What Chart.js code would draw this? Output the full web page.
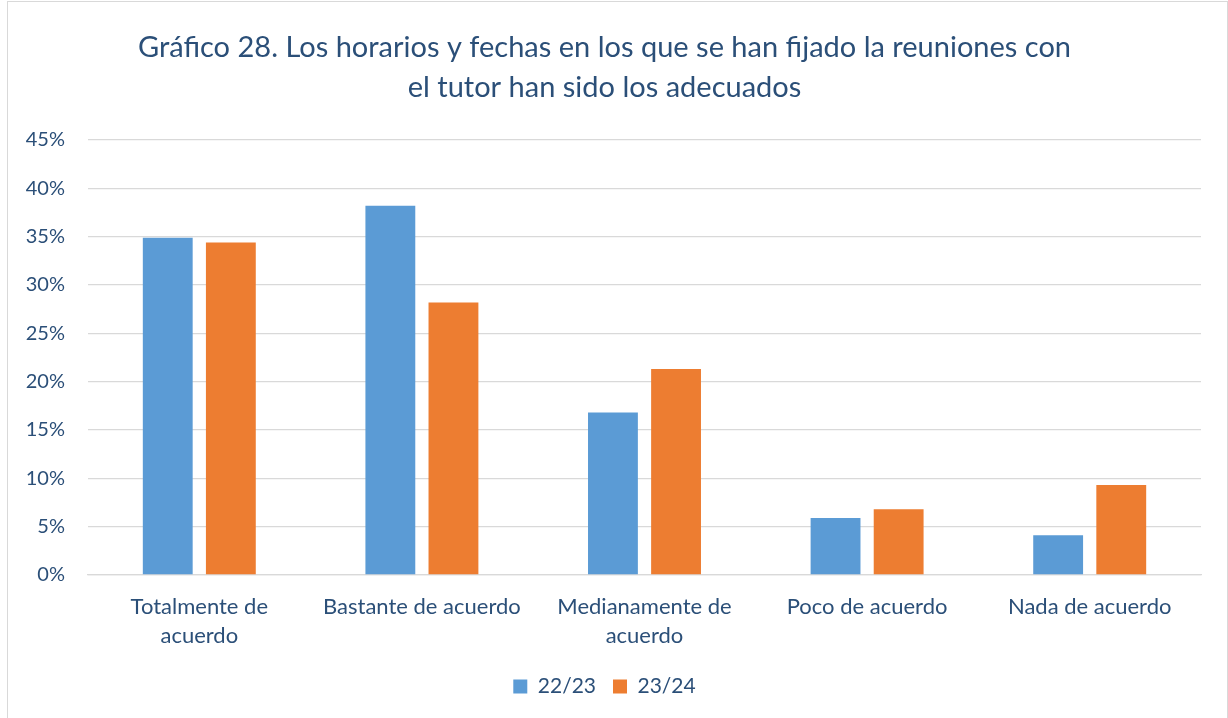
<!DOCTYPE html>
<html>
<head>
<meta charset="utf-8">
<script src="https://cdn.jsdelivr.net/npm/chart.js@4.4.1/dist/chart.umd.min.js"></script>
<style>
  body{margin:0;background:#fff;overflow:hidden;}
  #frame{position:absolute;left:7px;top:1px;width:1219px;height:730px;border:1px solid #d9d9d9;}
</style>
</head>
<body>
<div id="frame"><canvas id="chart" width="1219" height="716"></canvas></div>
<script>
//----- chart data -----//
const categories = [["Totalmente de","acuerdo"],"Bastante de acuerdo",["Medianamente de","acuerdo"],"Poco de acuerdo","Nada de acuerdo"];
const serie2223  = [34.9, 38.2, 16.8, 5.9, 4.1];
const serie2324  = [34.4, 28.2, 21.3, 6.8, 9.3];
const titleLines = ["Gráfico 28. Los horarios y fechas en los que se han fijado la reuniones con","el tutor han sido los adecuados"];

const textColor = '#2b4f78';
const fontName  = 'Lato';

new Chart(document.getElementById('chart'), {
  type: 'bar',
  data: {
    labels: categories,
    datasets: [
      {label:'22/23', data:serie2223, backgroundColor:'#5b9bd5', categoryPercentage:0.567, barPercentage:0.79},
      {label:'23/24', data:serie2324, backgroundColor:'#ed7d31', categoryPercentage:0.567, barPercentage:0.79}
    ]
  },
  options: {
    responsive: false,
    animation: false,
    layout: {padding:{left:0, right:26, top:10, bottom:11}},
    plugins: {
      title: {
        display: true,
        text: titleLines,
        color: textColor,
        font: {family:fontName, size:29, weight:'normal', lineHeight:1.38},
        padding: {top:16, bottom:32}
      },
      legend: {
        position: 'bottom',
        labels: {color:textColor, font:{family:fontName, size:21}, boxWidth:14, boxHeight:14, padding:17}
      },
      tooltip: {enabled:false}
    },
    scales: {
      y: {
        min: 0, max: 45,
        ticks: {stepSize:5, color:textColor, font:{family:fontName, size:20}, padding:23, callback: v => v + '%'},
        grid: {color:'#d9d9d9', lineWidth:1.3, drawTicks:false},
        border: {display:false},
        afterFit: s => { s.width = 80; }
      },
      x: {
        ticks: {color:textColor, font:{family:fontName, size:22, lineHeight:1.32}, padding:9, maxRotation:0},
        grid: {display:false},
        border: {color:'#d9d9d9', width:1.3}
      }
    }
  }
});
</script>
</body>
</html>
